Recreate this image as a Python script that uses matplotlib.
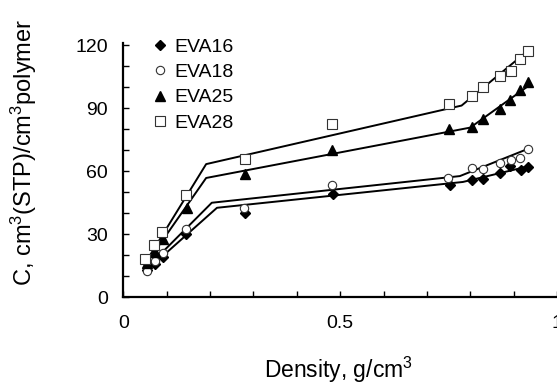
import matplotlib
matplotlib.use("Agg")
import matplotlib.pyplot as plt
from matplotlib.ticker import MultipleLocator, FuncFormatter

plt.rcParams['font.family'] = ['Liberation Sans', 'DejaVu Sans']
plt.rcParams['mathtext.fontset'] = 'custom'
plt.rcParams['mathtext.rm'] = 'Liberation Sans'
plt.rcParams['mathtext.it'] = 'Liberation Sans'

# Measured data (density g/cm3, C)
x16 = [0.055, 0.073, 0.091, 0.144, 0.280, 0.484, 0.753, 0.803, 0.829, 0.868, 0.891, 0.916, 0.932]
y16 = [13.0, 15.5, 19.0, 30.2, 40.1, 49.1, 53.4, 55.7, 56.2, 59.0, 62.4, 60.5, 61.9]
x18 = [0.055, 0.073, 0.091, 0.144, 0.279, 0.481, 0.748, 0.803, 0.829, 0.868, 0.893, 0.914, 0.932]
y18 = [12.3, 17.0, 21.0, 32.6, 42.5, 53.4, 56.7, 61.4, 60.9, 63.8, 65.2, 66.1, 70.4]
x25 = [0.055, 0.073, 0.091, 0.147, 0.280, 0.481, 0.750, 0.803, 0.829, 0.868, 0.891, 0.914, 0.932]
y25 = [16.1, 21.3, 27.4, 42.5, 58.6, 69.9, 79.8, 81.2, 85.0, 89.7, 94.0, 98.7, 102.5]
x28 = [0.050, 0.071, 0.089, 0.144, 0.280, 0.481, 0.750, 0.803, 0.829, 0.868, 0.893, 0.914, 0.932]
y28 = [17.9, 24.6, 31.2, 48.7, 65.7, 82.2, 92.1, 95.9, 100.1, 105.3, 107.7, 113.4, 117.1]

# Model (fit) lines
lx16 = [0.05, 0.216, 0.783, 0.937]
ly16 = [12.0, 42.5, 54.8, 62.4]
lx18 = [0.05, 0.204, 0.776, 0.937]
ly18 = [13.0, 44.9, 57.6, 70.9]
lx25 = [0.05, 0.191, 0.800, 0.937]
ly25 = [15.0, 56.7, 80.7, 101.0]
lx28 = [0.05, 0.191, 0.780, 0.937]
ly28 = [16.0, 63.3, 91.2, 118.0]

labels = ["EVA16", "EVA18", "EVA25", "EVA28"]
xtick_text = {0.0: '0', 0.5: '0.5', 1.0: '1'}

fig = plt.figure(figsize=(5.57, 3.85), dpi=100)
ax = fig.add_axes([123.3/557, 1-297/385, (557-123.3)/557, (297-43)/385])

for lx, ly in [(lx16, ly16), (lx18, ly18), (lx25, ly25), (lx28, ly28)]:
    ax.plot(lx, ly, color='black', lw=1.4, zorder=2)

ax.plot(x16, y16, linestyle='none', marker='D', ms=5, color='black', label=labels[0], zorder=3)
ax.plot(x18, y18, linestyle='none', marker='o', ms=6, mfc='white', mec='#333333', mew=0.8, label=labels[1], zorder=3)
ax.plot(x25, y25, linestyle='none', marker='^', ms=7, color='black', label=labels[2], zorder=3)
ax.plot(x28, y28, linestyle='none', marker='s', ms=6.5, mfc='white', mec='#333333', mew=0.8, label=labels[3], zorder=3)

ax.set_xlim(0, 1)
ax.set_ylim(0, 121)
ax.spines['top'].set_visible(False)
ax.spines['right'].set_visible(False)
ax.spines['left'].set_linewidth(1.6)
ax.spines['bottom'].set_linewidth(1.6)
ax.xaxis.set_major_locator(MultipleLocator(0.5))
ax.xaxis.set_minor_locator(MultipleLocator(0.1))
ax.yaxis.set_major_locator(MultipleLocator(30))
ax.yaxis.set_minor_locator(MultipleLocator(10))
ax.xaxis.set_major_formatter(FuncFormatter(lambda v, p: xtick_text.get(round(v, 2), '')))
ax.tick_params(axis='both', which='both', direction='in', length=4, width=1, labelsize=14, colors='black')
ax.tick_params(axis='x', which='major', pad=13)
ax.tick_params(axis='y', which='major', pad=11)

leg = ax.legend(loc='upper left', bbox_to_anchor=(0.04, 1.05), frameon=False, fontsize=14,
                handletextpad=0.15, handlelength=1.2, labelspacing=0.4, borderaxespad=0)

fig.text(338/557, 1-378/385, 'Density, g/cm$^{3}$', ha='center', va='baseline', fontsize=16.5)
fig.text(24/557, 1-152/385, 'C, cm$^{3}$(STP)/cm$^{3}$polymer', ha='center', va='center', fontsize=17, rotation=90)

fig.savefig('out.png', dpi=100)
